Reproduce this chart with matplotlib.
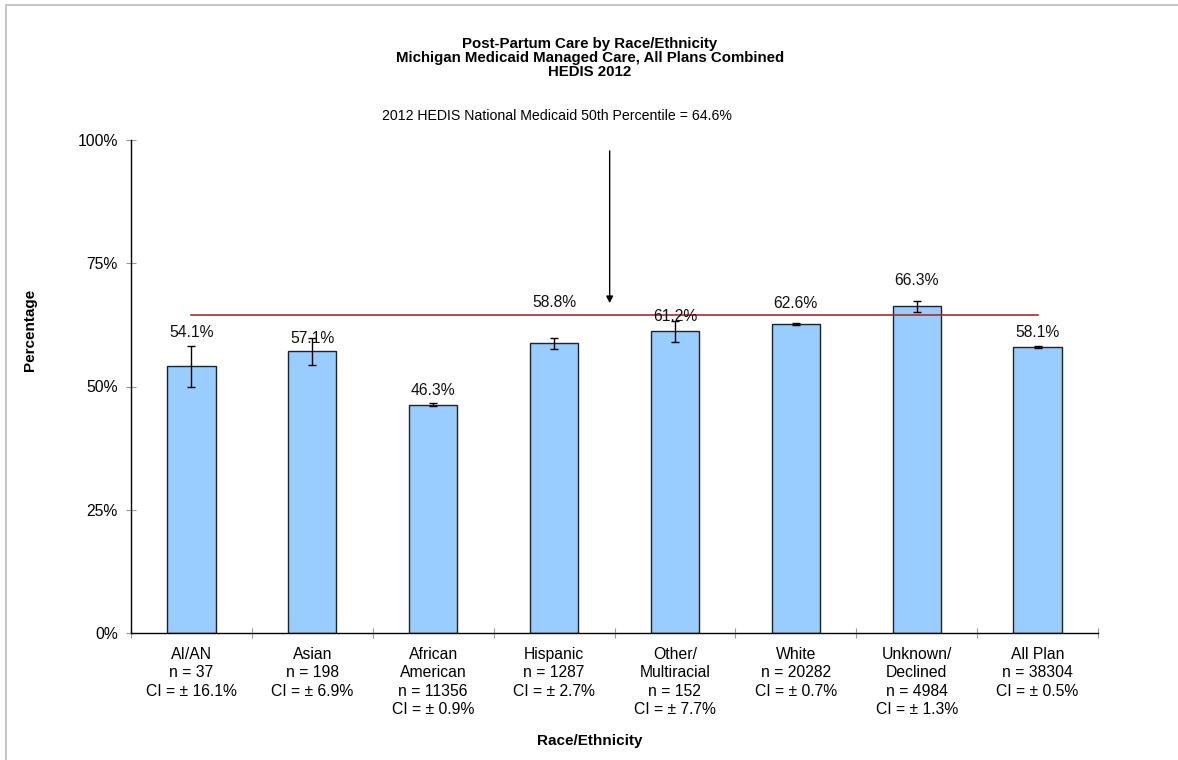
import matplotlib
matplotlib.use("Agg")
import matplotlib.pyplot as plt
from matplotlib.patches import Rectangle
import numpy as np

plt.rcParams['font.family'] = ['Liberation Sans', 'DejaVu Sans']

# ---- data ----
categories = ["AI/AN", "Asian", "African\nAmerican", "Hispanic", "Other/\nMultiracial",
              "White", "Unknown/\nDeclined", "All Plan"]
n_values = [37, 198, 11356, 1287, 152, 20282, 4984, 38304]
ci_values = [16.1, 6.9, 0.9, 2.7, 7.7, 0.7, 1.3, 0.5]
rates = [54.1, 57.1, 46.3, 58.8, 61.2, 62.6, 66.3, 58.1]
error_half = [4.2, 2.7, 0.3, 1.1, 2.1, 0.2, 1.1, 0.2]
benchmark = 64.6
y_ticks = [0, 25, 50, 75, 100]

# label offsets above bar tops (data units), positioning only
label_offsets = [6.8, 2.7, 2.8, 8.2, 3.0, 4.3, 5.3, 2.8]

W, H = 1178, 760
fig = plt.figure(figsize=(W / 100, H / 100), dpi=100)
ax = fig.add_axes([131 / W, 1 - 633 / H, (1098 - 131) / W, (633 - 140) / H])

x = np.arange(len(categories))
ax.bar(x, rates, width=0.40, color='#99CCFF', edgecolor='#222222', linewidth=1.0, zorder=2)
ax.errorbar(x, rates, yerr=error_half, fmt='none', ecolor='black', elinewidth=1.0,
            capsize=2.6, capthick=1.0, zorder=3)

# benchmark line across category centers
ax.plot([x[0], x[-1]], [benchmark, benchmark], color='#A32F2F', linewidth=1.2, zorder=4)

for xi, r, off in zip(x, rates, label_offsets):
    ax.text(xi, r + off, f"{r:.1f}%", ha='center', va='center', fontsize=11.3, color='#111111', zorder=5)

ax.set_xlim(-0.5, len(categories) - 0.5)
ax.set_ylim(0, 100)

ax.set_yticks(y_ticks)
ax.set_yticklabels([f"{t}%" for t in y_ticks], fontsize=11.3)

# major ticks at category boundaries, labels at centers
ax.set_xticks(np.arange(len(categories) + 1) - 0.5)
ax.set_xticklabels([])
ax.set_xticks(x, minor=True)
xlabels = []
for c, n, ci in zip(categories, n_values, ci_values):
    xlabels.append(f"{c}\nn = {n}\nCI = \u00b1 {ci:.1f}%")
ax.set_xticklabels(xlabels, minor=True, fontsize=11.3, linespacing=1.28)
ax.tick_params(axis='x', which='minor', length=0, pad=10)
ax.tick_params(axis='both', which='major', direction='inout', length=7, color='#999999', width=0.8)
ax.tick_params(axis='y', pad=6)

for s in ['top', 'right']:
    ax.spines[s].set_visible(False)
for s in ['left', 'bottom']:
    ax.spines[s].set_color('black')
    ax.spines[s].set_linewidth(1.0)

fig.text(30 / W, 1 - 330 / H, "Percentage", rotation=90, ha='center', va='center',
         fontsize=11, fontweight='bold')
fig.text(590 / W, 1 - 741 / H, "Race/Ethnicity", ha='center', va='center',
         fontsize=11, fontweight='bold')

# benchmark annotation
ax.text(3.02, 104.9, f"2012 HEDIS National Medicaid 50th Percentile = {benchmark}%",
        ha='center', va='center', fontsize=10.2, clip_on=False)
ax.annotate('', xy=(3.46, 66.9), xytext=(3.46, 97.8),
            arrowprops=dict(arrowstyle='-|>', color='black', lw=1.0, mutation_scale=10,
                            shrinkA=0, shrinkB=0), annotation_clip=False)

fig.text(590 / W, 1 - 58 / H,
         "Post-Partum Care by Race/Ethnicity\nMichigan Medicaid Managed Care, All Plans Combined\nHEDIS 2012",
         ha='center', va='center', fontsize=10.8, fontweight='bold', linespacing=1.0)

# outer chart border
fig.patches.append(Rectangle((6 / W, -0.01), 1.05, 1 - 5 / H + 0.01, transform=fig.transFigure,
                             fill=False, edgecolor='#BBBBBB', linewidth=1.2))

fig.savefig("out.png", dpi=100)
